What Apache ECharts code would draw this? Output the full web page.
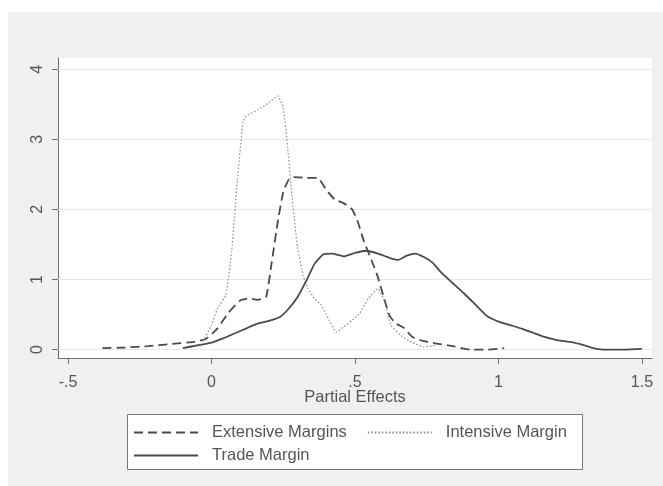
<!DOCTYPE html>
<html>
<head>
<meta charset="utf-8">
<script src="https://cdn.jsdelivr.net/npm/echarts@6/dist/echarts.min.js"></script>
<style>
  html, body { margin: 0; padding: 0; background: #fff; }
  #chart { width: 663px; height: 486px; }
</style>
</head>
<body>
<div id="chart"></div>
<script>
// 横轴刻度 / 纵轴刻度
var xTicks = [-0.5, 0, 0.5, 1, 1.5];
var yTicks = [0, 1, 2, 3, 4];

// Extensive Margins (虚线)
var extX = [-0.38, -0.30, -0.22, -0.14, -0.06, -0.02, 0.02, 0.06, 0.10, 0.13, 0.16, 0.19, 0.21, 0.23, 0.25, 0.27, 0.29, 0.33, 0.37, 0.40, 0.43, 0.46, 0.49, 0.51, 0.53, 0.56, 0.58, 0.60, 0.62, 0.64, 0.67, 0.70, 0.74, 0.78, 0.84, 0.90, 0.96, 1.02];
var extY = [0.02, 0.03, 0.05, 0.08, 0.11, 0.15, 0.30, 0.53, 0.70, 0.73, 0.71, 0.75, 1.25, 1.80, 2.25, 2.43, 2.46, 2.45, 2.45, 2.28, 2.14, 2.09, 2.00, 1.82, 1.56, 1.25, 1.03, 0.75, 0.49, 0.38, 0.31, 0.18, 0.12, 0.09, 0.05, 0.00, 0.00, 0.02];

// Intensive Margin (点线)
var intX = [-0.03, 0.00, 0.02, 0.05, 0.07, 0.09, 0.11, 0.12, 0.16, 0.20, 0.23, 0.25, 0.265, 0.28, 0.30, 0.32, 0.335, 0.36, 0.38, 0.41, 0.435, 0.46, 0.49, 0.515, 0.545, 0.58, 0.60, 0.625, 0.66, 0.70, 0.74, 0.78];
var intY = [0.12, 0.35, 0.58, 0.78, 1.40, 2.41, 3.25, 3.33, 3.42, 3.52, 3.62, 3.45, 2.90, 2.20, 1.45, 1.05, 0.88, 0.72, 0.65, 0.42, 0.25, 0.32, 0.42, 0.51, 0.72, 0.87, 0.72, 0.35, 0.20, 0.10, 0.04, 0.06];

// Trade Margin (实线)
var tradeX = [-0.10, -0.05, 0.00, 0.04, 0.08, 0.12, 0.16, 0.20, 0.24, 0.27, 0.30, 0.33, 0.36, 0.39, 0.42, 0.46, 0.50, 0.54, 0.58, 0.62, 0.65, 0.68, 0.71, 0.74, 0.77, 0.80, 0.84, 0.88, 0.92, 0.96, 1.00, 1.04, 1.08, 1.12, 1.16, 1.20, 1.25, 1.30, 1.34, 1.38, 1.44, 1.50];
var tradeY = [0.02, 0.06, 0.10, 0.16, 0.23, 0.30, 0.37, 0.41, 0.47, 0.59, 0.75, 0.98, 1.23, 1.36, 1.37, 1.33, 1.38, 1.41, 1.37, 1.31, 1.28, 1.34, 1.37, 1.32, 1.24, 1.10, 0.95, 0.80, 0.64, 0.48, 0.40, 0.35, 0.30, 0.24, 0.18, 0.14, 0.11, 0.06, 0.01, 0.00, 0.00, 0.01];

function zip(xs, ys) {
    return xs.map(function (x, i) { return [x, ys[i]]; });
}

function fmtTick(v) {
    // Stata 风格: 去掉前导 0
    return String(v).replace(/^(-?)0\./, '$1.');
}

var chart = echarts.init(document.getElementById('chart'));
var axisColor = '#6f6f6f';
var textColor = '#555';
var lineColor = '#4a4a4a';

var legendBase = {
    padding: 0,
    itemWidth: 64, itemHeight: 14,
    itemStyle: { opacity: 0 },
    textStyle: { fontSize: 16.5, color: textColor, padding: [0, 0, 0, 9] }
};

var option = {
    backgroundColor: '#fff',
    animation: false,
    textStyle: { fontFamily: 'Liberation Sans, Arial, sans-serif' },
    graphic: [
        {
            type: 'rect', z: -10,
            shape: { x: 8, y: 12, width: 655, height: 474 },
            style: { fill: '#eff0f2' }
        },
        {
            // 图例外框
            type: 'rect', z: 1,
            shape: { x: 127.5, y: 414.5, width: 455, height: 55 },
            style: { fill: '#fff', stroke: '#777', lineWidth: 1 }
        }
    ],
    grid: {
        show: true,
        left: 58, right: 11, top: 58, bottom: 128,
        backgroundColor: '#fff',
        borderWidth: 0
    },
    legend: [
        Object.assign({}, legendBase, {
            data: ['Extensive Margins', 'Intensive Margin'],
            left: 133, top: 424,
            itemGap: 20
        }),
        Object.assign({}, legendBase, {
            data: ['Trade Margin'],
            left: 133, top: 447
        })
    ],
    xAxis: {
        type: 'value',
        min: -0.535, max: 1.535,
        name: 'Partial Effects',
        nameLocation: 'middle',
        nameGap: 31,
        nameMoveOverlap: false,
        nameTextStyle: { fontSize: 16.5, color: textColor },
        axisLine: { show: true, onZero: false, lineStyle: { color: axisColor, width: 1 } },
        axisTick: { show: true, length: 6, customValues: xTicks, lineStyle: { color: axisColor } },
        axisLabel: { customValues: xTicks, margin: 17, fontSize: 16, color: textColor, formatter: fmtTick },
        splitLine: { show: false }
    },
    yAxis: {
        type: 'value',
        min: -0.12, max: 4.16,
        axisLine: { show: true, onZero: false, lineStyle: { color: axisColor, width: 1 } },
        axisTick: { show: true, length: 6, customValues: yTicks, lineStyle: { color: axisColor } },
        axisLabel: { customValues: yTicks, rotate: 90, margin: 12, fontSize: 16, color: textColor },
        splitLine: { show: false }
    },
    series: [
        {
            name: 'Extensive Margins',
            type: 'line',
            data: zip(extX, extY),
            symbol: 'none',
            smooth: 0.15,
            lineStyle: { color: lineColor, width: 1.8, type: [9, 5] },
            itemStyle: { color: lineColor },
            // 水平网格线
            markLine: {
                silent: true,
                symbol: 'none',
                label: { show: false },
                lineStyle: { color: '#e6e8eb', width: 1.2, type: 'solid' },
                z: 1,
                data: yTicks.map(function (v) { return { yAxis: v }; })
            },
            z: 3
        },
        {
            name: 'Intensive Margin',
            type: 'line',
            data: zip(intX, intY),
            symbol: 'none',
            smooth: 0.15,
            lineStyle: { color: '#8a8a8a', width: 1.2, type: [1.5, 2] },
            itemStyle: { color: '#8a8a8a' },
            z: 3
        },
        {
            name: 'Trade Margin',
            type: 'line',
            data: zip(tradeX, tradeY),
            symbol: 'none',
            smooth: 0.15,
            lineStyle: { color: lineColor, width: 1.8, type: 'solid' },
            itemStyle: { color: lineColor },
            z: 3
        }
    ]
};
chart.setOption(option);
</script>
</body>
</html>
